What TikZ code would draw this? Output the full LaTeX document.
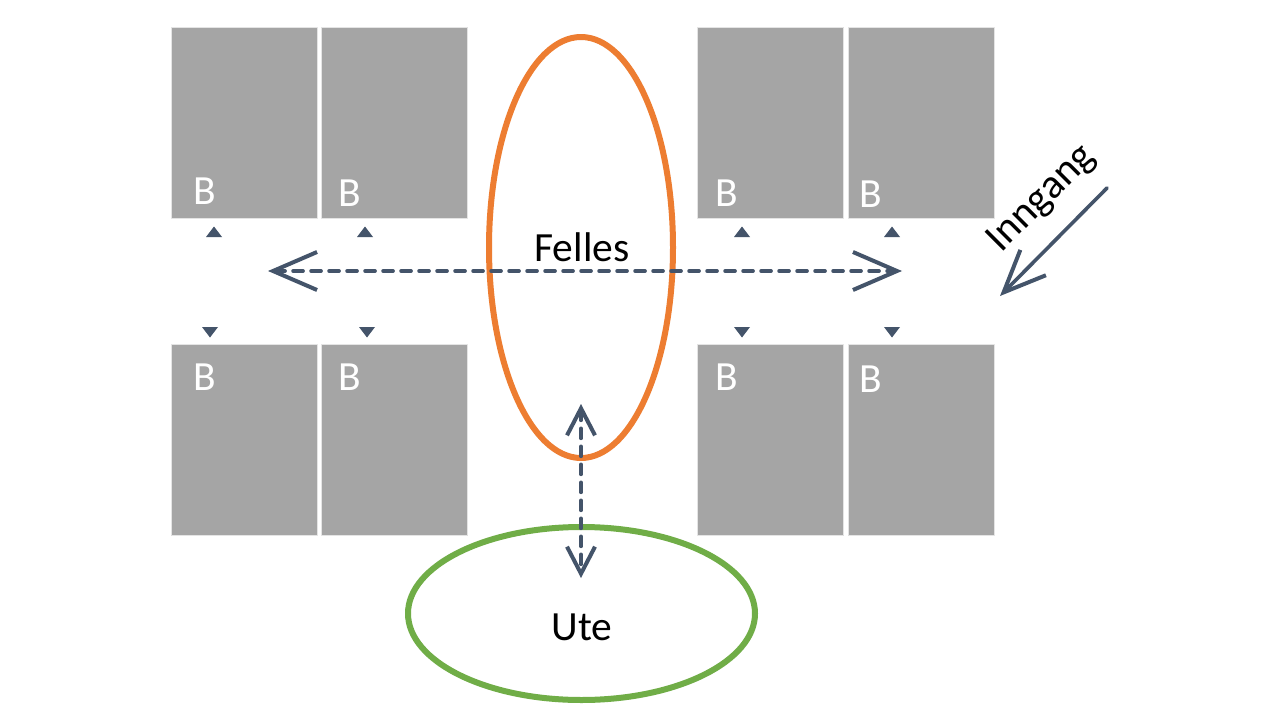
\documentclass[tikz,border=0pt]{standalone}
\usepackage{fontspec}
\setmainfont{Carlito}
\usetikzlibrary{arrows.meta,shapes.geometric}
\definecolor{roomGray}{HTML}{A5A5A5}
\definecolor{roomEdge}{HTML}{E4E4E4}
\definecolor{sharedOrange}{HTML}{ED7D31}
\definecolor{outdoorGreen}{HTML}{70AD47}
\definecolor{pathInk}{HTML}{44546A}
\newcommand{\planfont}{\fontsize{41.5}{44}\selectfont}

\begin{document}
\begin{tikzpicture}[x=1pt,y=-1pt,line cap=round,line join=round]
\path[fill=white] (0,0) rectangle (1280,720);
\tikzset{room/.style={draw=roomEdge,fill=roomGray,line width=1pt,minimum width=146pt,minimum height=191pt,inner sep=0pt},
  roomtag/.style={text=white,font=\planfont,inner sep=0pt},
  walk/.style={draw=pathInk,line width=3.6pt,dash pattern=on 10pt off 8pt}}
% rooms, top row
\node[room] (ta) at (244,122.5) {}; \node[room] (tb) at (394.5,122.5) {};
\node[room] (tc) at (770.5,122.5) {}; \node[room] (td) at (921,122.5) {};
% rooms, bottom row
\node[room] (ba) at (244,440) {}; \node[room] (bb) at (394.5,440) {};
\node[room] (bc) at (770.5,440) {}; \node[room] (bd) at (921,440) {};
\node[roomtag] at (205,191) {B}; \node[roomtag] at (350,193) {B};
\node[roomtag] at (727,193) {B}; \node[roomtag] at (871,194) {B};
\node[roomtag] at (205,377) {B}; \node[roomtag] at (350,377) {B};
\node[roomtag] at (727,377) {B}; \node[roomtag] at (871,379) {B};
% doors
\foreach \x in {214,365,742,892} \fill[pathInk] (\x-8,237) -- (\x+8,237) -- (\x,226.5) -- cycle;
\foreach \x in {210,367,742,892} \fill[pathInk] (\x-8,327) -- (\x+8,327) -- (\x,337.5) -- cycle;
% shared space and outdoors
\node[ellipse,draw=sharedOrange,line width=6pt,minimum width=184pt,minimum height=421pt] (felles) at (581,247.5) {};
\node[ellipse,draw=outdoorGreen,line width=6pt,minimum width=347pt,minimum height=173pt] (ute) at (581.5,613.5) {};
\node[font=\planfont,inner sep=0pt] (fellestxt) at (582,247) {Felles};
\node[font=\planfont,inner sep=0pt] (utetxt) at (582,627) {Ute};
% walking paths
\coordinate (hl) at (268,271); \coordinate (hr) at (902,271);
\coordinate (vt) at (581,404); \coordinate (vb) at (581,578);
\draw[walk,{Straight Barb[length=44pt,width=38pt,line width=4pt]}-{Straight Barb[length=44pt,width=38pt,line width=4pt]}] (hl) -- (hr);
\draw[walk,{Straight Barb[length=27pt,width=28pt,line width=4pt]}-{Straight Barb[length=27pt,width=28pt,line width=4pt]}] (vt) -- (vb);
% entrance
\coordinate (ia) at (1107,188); \coordinate (ib) at (1000,296);
\draw[draw=pathInk,line width=3.6pt,-{Straight Barb[length=42pt,width=36pt,line width=4pt]}] (ia) -- (ib);
\node[font=\planfont,rotate=45,inner sep=0pt] (inngang) at (1042,199) {Inngang};
\end{tikzpicture}
\end{document}
